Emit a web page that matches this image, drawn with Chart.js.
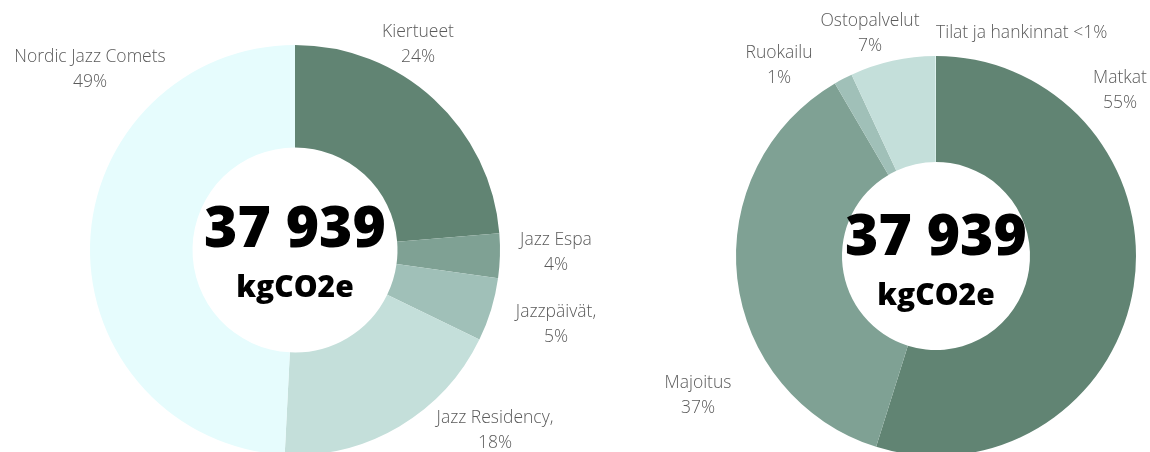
<!DOCTYPE html>
<html>
<head>
<meta charset="utf-8">
<script src="https://cdn.jsdelivr.net/npm/chart.js@4/dist/chart.umd.min.js"></script>
<style>
    html, body { margin: 0; padding: 0; background: #fff; width: 1150px; height: 452px; overflow: hidden; }
    .wrap { position: absolute; top: 0; }
</style>
</head>
<body>
<div class="wrap" style="left:0"><canvas id="projectChart" width="600" height="500"></canvas></div>
<div class="wrap" style="left:575px"><canvas id="categoryChart" width="575" height="500"></canvas></div>
<script>
// totals in the middle of both rings
const totalText = '37 939';
const unitText = 'kgCO2e';

// share of emissions per project (%)
const projectNames = ['Kiertueet', 'Jazz Espa', 'Jazzpäivät,', 'Jazz Residency,', 'Nordic Jazz Comets'];
const projectValues = [23.7, 3.5, 5.0, 18.6, 49.2];
const projectPct = ['24%', '4%', '5%', '18%', '49%'];

// share of emissions per category (%)
const categoryNames = ['Matkat', 'Majoitus', 'Ruokailu', 'Ostopalvelut', 'Tilat ja hankinnat'];
const categoryValues = [54.8, 36.7, 1.5, 6.9, 0.03];
const categoryPct = ['55%', '37%', '1%', '7%', '<1%'];

const greens = ['#618473', '#7fa194', '#a0c0b8', '#c4dfda', '#e6fcfd'];

// label anchor offsets from the ring centre (layout only)
const projectLabelPos = [
    { dx: 123, dy: -218 },
    { dx: 261, dy: -10 },
    { dx: 261, dy: 62 },
    { dx: 200, dy: 168 },
    { dx: -205, dy: -193 }
];
const categoryLabelPos = [
    { dx: 184, dy: -178 },
    { dx: -238, dy: 127 },
    { dx: -157, dy: -203 },
    { dx: -66, dy: -235 },
    { dx: 0, dy: -223, inline: true }
];

const sliceLabels = {
    id: 'sliceLabels',
    afterDraw(chart, args, opts) {
        const ctx = chart.ctx;
        const arcs = chart.getDatasetMeta(0).data;
        if (!arcs.length) return;
        const cx = arcs[0].x, cy = arcs[0].y;
        ctx.save();
        ctx.font = '300 17.5px "Open Sans"';
        ctx.fillStyle = '#5a5a5a';
        ctx.textBaseline = 'middle';
        opts.names.forEach((name, i) => {
            const p = opts.pos[i];
            const x = cx + p.dx, y = cy + p.dy;
            if (p.inline) {
                ctx.textAlign = 'left';
                ctx.fillText(name + ' ' + opts.pct[i], x, y);
            } else {
                ctx.textAlign = 'center';
                ctx.fillText(name, x, y);
                ctx.fillText(opts.pct[i], x, y + 25);
            }
        });
        // centre total
        ctx.fillStyle = '#000';
        ctx.textAlign = 'center';
        ctx.textBaseline = 'alphabetic';
        ctx.font = '800 57px "Open Sans"';
        ctx.fillText(totalText, cx, cy + opts.totalDy);
        ctx.font = '800 30px "Open Sans"';
        ctx.fillText(unitText, cx, cy + opts.unitDy);
        ctx.restore();
    }
};

function makeRing(id, labels, values, pct, pos, padding, cutout, totalDy, unitDy) {
    const ctx = document.getElementById(id).getContext('2d');
    return new Chart(ctx, {
        type: 'doughnut',
        data: {
            labels,
            datasets: [{ data: values, backgroundColor: greens, borderWidth: 0, hoverOffset: 0 }]
        },
        options: {
            responsive: false,
            animation: false,
            cutout,
            layout: { padding },
            plugins: {
                legend: { display: false },
                tooltip: { enabled: false },
                sliceLabels: { names: labels, pct, pos, totalDy, unitDy }
            }
        },
        plugins: [sliceLabels]
    });
}

makeRing('projectChart', projectNames, projectValues, projectPct, projectLabelPos,
    { left: 90, top: 45, right: 100, bottom: 45 }, '50%', -3, 47);
makeRing('categoryChart', categoryNames, categoryValues, categoryPct, categoryLabelPos,
    { left: 161, top: 56, right: 14, bottom: 44 }, '47%', -1, 49);
</script>
</body>
</html>
